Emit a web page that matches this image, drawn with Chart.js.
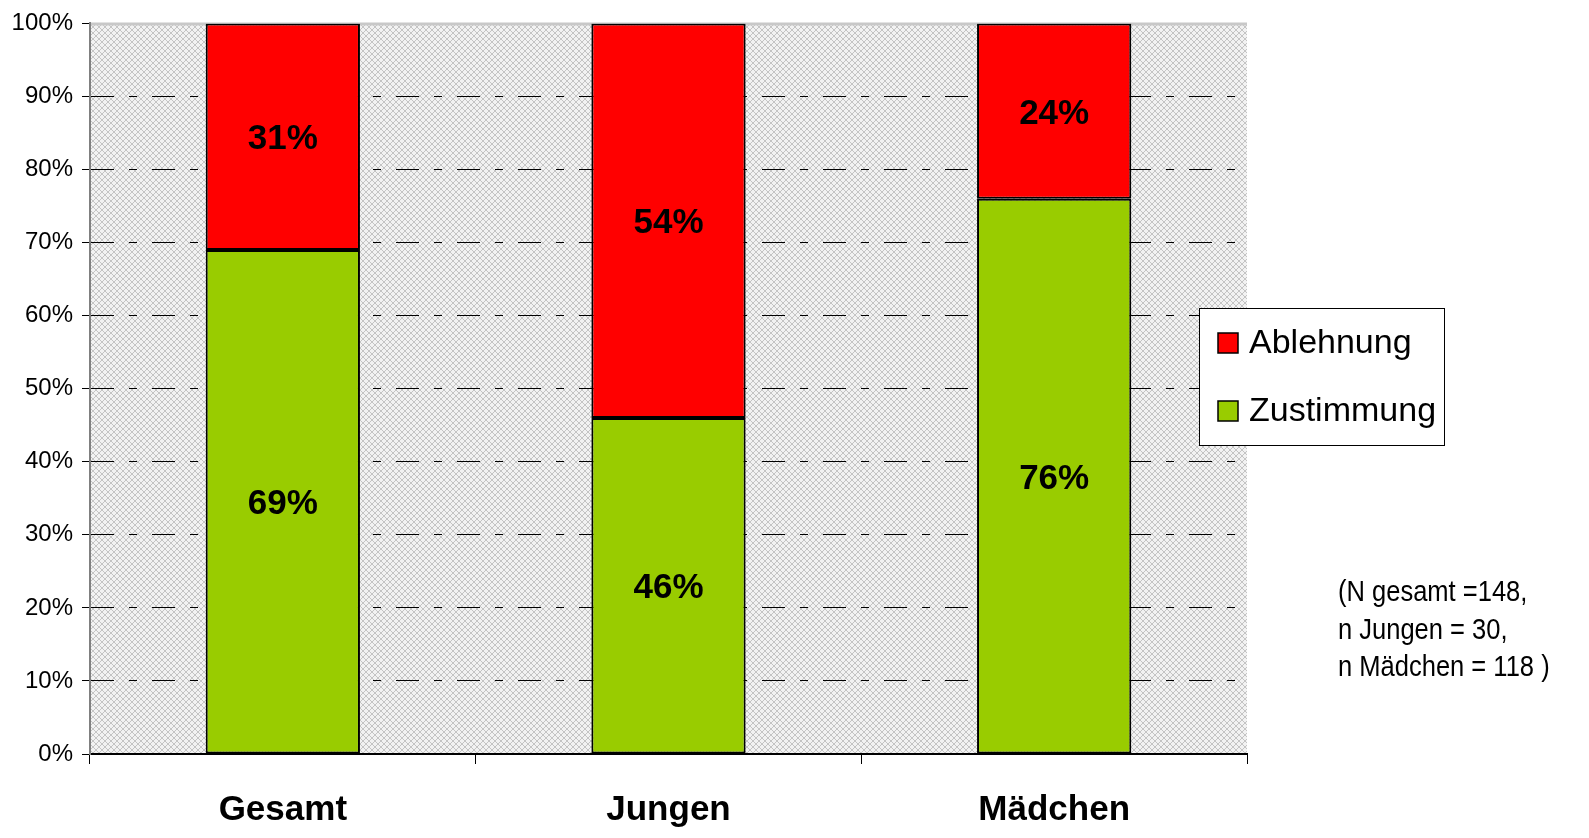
<!DOCTYPE html>
<html><head><meta charset="utf-8">
<script src="https://cdn.jsdelivr.net/npm/chart.js@4.4.1/dist/chart.umd.min.js"></script>
<style>
html,body{margin:0;padding:0;background:#fff;overflow:hidden;}
#wrap{position:relative;width:1589px;height:838px;overflow:hidden;}
canvas{display:block;}
#note{position:absolute;left:1338px;top:573px;font-family:"Liberation Sans Narrow","Liberation Sans",Arial,sans-serif;font-size:29px;line-height:37.5px;color:#000;white-space:nowrap;transform:scaleX(0.88);transform-origin:0 0;}
</style></head>
<body>
<div id="wrap"><canvas id="c" width="1589" height="838"></canvas>
<div id="note">(N gesamt =148,<br>n Jungen = 30,<br>n Mädchen = 118 )</div></div>
<script>
const categories = ["Gesamt", "Jungen", "Mädchen"];
const zustimmung = [69, 46, 76];
const ablehnung = [31, 54, 24];
const seriesNames = ["Zustimmung", "Ablehnung"];
const yTicks = [0,10,20,30,40,50,60,70,80,90,100];

function makePattern(){
  const p = document.createElement('canvas'); p.width=6; p.height=6;
  const g = p.getContext('2d');
  g.fillStyle='#f2f2f2'; g.fillRect(0,0,6,6);
  g.fillStyle='#c4c4c4';
  for(let i=0;i<6;i++){ g.fillRect(i,i,1,1); g.fillRect(5-i,i,1,1); }
  return p;
}
const bgPlugin = {
  id:'bg',
  beforeDraw(chart){
    const {ctx, chartArea:a} = chart;
    ctx.save();
    ctx.fillStyle = ctx.createPattern(makePattern(),'repeat');
    ctx.fillRect(a.left,a.top,a.right-a.left,a.bottom-a.top);
    ctx.strokeStyle='#c8c8c8'; ctx.lineWidth=3;
    ctx.beginPath(); ctx.moveTo(a.left,a.top+0.5); ctx.lineTo(a.right,a.top+0.5); ctx.stroke();
    ctx.restore();
  }
};
const labelPlugin = {
  id:'vals',
  afterDatasetsDraw(chart){
    const ctx = chart.ctx;
    ctx.save();
    ctx.font='bold 35px "Liberation Sans", Arial, sans-serif';
    ctx.fillStyle='#000'; ctx.textAlign='center'; ctx.textBaseline='middle';
    chart.data.datasets.forEach((ds,di)=>{
      chart.getDatasetMeta(di).data.forEach((bar,i)=>{
        const y=(bar.y+bar.base)/2;
        ctx.fillText(ds.data[i]+'%', bar.x, y+3);
      });
    });
    ctx.restore();
  }
};
const legendPlugin = {
  id:'lgd',
  afterDraw(chart){
    const ctx = chart.ctx;
    ctx.save();
    ctx.fillStyle='#fff'; ctx.fillRect(1199,308,245,137);
    ctx.strokeStyle='#000'; ctx.lineWidth=1; ctx.strokeRect(1199.5,308.5,245,137);
    const items=[chart.data.datasets[1],chart.data.datasets[0]];
    const ys=[343,411];
    ctx.font='34px "Liberation Sans", Arial, sans-serif';
    ctx.textBaseline='middle'; ctx.textAlign='left';
    items.forEach((ds,i)=>{
      ctx.fillStyle=ds.backgroundColor; ctx.fillRect(1218,ys[i]-10,20,20);
      ctx.strokeStyle='#000'; ctx.lineWidth=1.5; ctx.strokeRect(1218,ys[i]-10,20,20);
      ctx.fillStyle='#000'; ctx.fillText(ds.label,1249,ys[i]+1);
    });
    ctx.restore();
  }
};
new Chart(document.getElementById('c'),{
  type:'bar',
  data:{labels:categories,datasets:[
    {label:seriesNames[0],data:zustimmung,backgroundColor:'#99CC00',borderColor:'#000',borderWidth:2,borderSkipped:false,barPercentage:0.8,categoryPercentage:0.5},
    {label:seriesNames[1],data:ablehnung,backgroundColor:'#FF0000',borderColor:'#000',borderWidth:2,borderSkipped:false,barPercentage:0.8,categoryPercentage:0.5}
  ]},
  options:{
    responsive:false,animation:false,
    layout:{padding:{left:0,right:342,top:19,bottom:0}},
    plugins:{legend:{display:false},tooltip:{enabled:false}},
    scales:{
      x:{stacked:true,
        grid:{offset:true,drawOnChartArea:false,drawTicks:true,tickLength:10,color:'#000',tickColor:'#000',lineWidth:1},
        border:{display:true,color:'#000',width:2},
        ticks:{font:{family:'"Liberation Sans", Arial, sans-serif',size:35,weight:'bold'},color:'#000',padding:25},
        afterFit(s){s.height=84;}
      },
      y:{stacked:true,min:0,max:100,
        afterBuildTicks(s){s.ticks=yTicks.map(v=>({value:v}));},
        grid:{color:(c)=> (c.tick && (c.tick.value===100||c.tick.value===0)) ? 'rgba(0,0,0,0)' : '#000',tickColor:'#000',tickLength:8,lineWidth:1},
        border:{display:true,color:'#808080',width:2,dash:[23,15,8,15]},
        ticks:{callback:v=>v+'%',font:{family:'"Liberation Sans", Arial, sans-serif',size:24},color:'#000',padding:9},
        afterFit(s){s.width=90;}
      }
    }
  },
  plugins:[bgPlugin,labelPlugin,legendPlugin]
});
</script>
</body></html>
